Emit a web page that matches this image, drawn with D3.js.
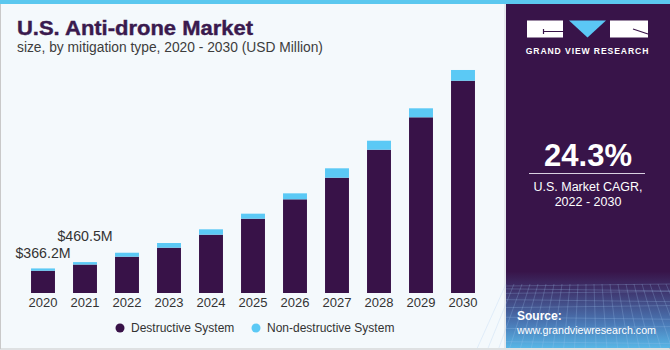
<!DOCTYPE html>
<html>
<head>
<meta charset="utf-8">
<script src="https://cdn.jsdelivr.net/npm/d3@7"></script>
<style>
  body { margin: 0; background: #fff; }
  text { font-family: "Liberation Sans", Arial, sans-serif; }
</style>
</head>
<body>
<script>
var width = 670;
var height = 350;

// data (USD Million)
var years = ["2020", "2021", "2022", "2023", "2024", "2025", "2026", "2027", "2028", "2029", "2030"];
var destructive = [332, 424, 541, 675, 869, 1107, 1396, 1718, 2135, 2618, 3163];
var nonDestructive = [34.2, 36.5, 59, 70, 80, 75, 89, 140, 134, 134, 160];
var labelYears = ["2020", "2021"];
var labelTexts = ["$366.2M", "$460.5M"];
var seriesNames = ["Destructive System", "Non-destructive System"];
var seriesColors = ["#381248", "#5bc9f5"];

// how far each value label sits above its bar
var labelDy = [10, 21];

var svg = d3.select("body")
    .append("svg")
    .attr("width", width)
    .attr("height", height);

var defs = svg.append("defs");
var grad = defs.append("linearGradient")
    .attr("id", "panelGrad")
    .attr("x1", 0).attr("y1", 0).attr("x2", 0).attr("y2", 1);
grad.append("stop").attr("offset", "0").attr("stop-color", "#381449");
grad.append("stop").attr("offset", "0.78").attr("stop-color", "#381449");
grad.append("stop").attr("offset", "0.84").attr("stop-color", "#3f3770");
grad.append("stop").attr("offset", "0.93").attr("stop-color", "#4a79b6");
grad.append("stop").attr("offset", "1").attr("stop-color", "#58b6e6");

// background + border
svg.append("rect")
    .attr("x", 0).attr("y", 0)
    .attr("width", width).attr("height", height)
    .attr("fill", "#f4f9fc");
svg.append("rect")
    .attr("x", 0.5).attr("y", 0.5)
    .attr("width", width - 1).attr("height", height - 1.5)
    .attr("fill", "none")
    .attr("stroke", "#c9c9c9");

// right side panel
var panel = svg.append("g");
panel.append("rect")
    .attr("x", 506).attr("y", 0)
    .attr("width", 164).attr("height", 348)
    .attr("fill", "url(#panelGrad)");
panel.append("line")
    .attr("x1", 505).attr("x2", 505)
    .attr("y1", 0).attr("y2", 348)
    .attr("stroke", "#d5d8de");

// faint grid at the bottom of the panel
var gridG = panel.append("g")
    .attr("stroke", "#9fc6ee")
    .attr("stroke-opacity", 0.35)
    .attr("stroke-width", 0.7);
for (var i = 0; i < 9; i++) {
    var gy = 286 + i * i * 0.85 + i * 2;
    gridG.append("line")
        .attr("x1", 506).attr("x2", 670)
        .attr("y1", gy).attr("y2", gy + (i % 2 ? 2 : -2));
}
for (var j = 0; j < 22; j++) {
    var gx = 506 + j * 8;
    gridG.append("line")
        .attr("x1", gx).attr("x2", gx + (gx - 588) * 0.35)
        .attr("y1", 284).attr("y2", 348);
}

// top strip
svg.append("rect")
    .attr("x", 0).attr("y", 0)
    .attr("width", width).attr("height", 4)
    .attr("fill", "#5bc8ef");

// logo
var logo = panel.append("g");
logo.append("rect").attr("x", 527).attr("y", 20.5).attr("width", 36).attr("height", 17).attr("fill", "#fff");
logo.append("path").attr("d", "M569,20.5 L606,20.5 L587.5,37.5 Z").attr("fill", "#5bc8f5");
logo.append("rect").attr("x", 610).attr("y", 20.5).attr("width", 38).attr("height", 17).attr("fill", "#fff");
logo.append("path").attr("d", "M543,31.5 L563,31.5 M543.5,29 L543.5,34")
    .attr("stroke", "#381449").attr("stroke-width", 1.2).attr("fill", "none");
logo.append("path").attr("d", "M633,29 L648,34")
    .attr("stroke", "#381449").attr("stroke-width", 1.2).attr("fill", "none");
panel.append("text")
    .attr("x", 587.5).attr("y", 54)
    .attr("text-anchor", "middle")
    .attr("fill", "#fff")
    .attr("font-size", 8.6)
    .attr("font-weight", "bold")
    .attr("letter-spacing", 0.9)
    .text("GRAND VIEW RESEARCH");

panel.append("text")
    .attr("x", 588).attr("y", 166)
    .attr("text-anchor", "middle")
    .attr("fill", "#fff")
    .attr("font-size", 31)
    .attr("font-weight", "bold")
    .text("24.3%");
panel.append("line")
    .attr("x1", 529).attr("x2", 645)
    .attr("y1", 173.5).attr("y2", 173.5)
    .attr("stroke", "#d8d0e0")
    .attr("stroke-width", 1);
panel.append("text")
    .attr("x", 588).attr("y", 191)
    .attr("text-anchor", "middle")
    .attr("fill", "#fff")
    .attr("font-size", 12.5)
    .text("U.S. Market CAGR,");
panel.append("text")
    .attr("x", 588).attr("y", 206)
    .attr("text-anchor", "middle")
    .attr("fill", "#fff")
    .attr("font-size", 12.5)
    .text("2022 - 2030");
panel.append("text")
    .attr("x", 517).attr("y", 320)
    .attr("fill", "#fff")
    .attr("font-size", 12)
    .attr("font-weight", "bold")
    .text("Source:");
panel.append("text")
    .attr("x", 517).attr("y", 334)
    .attr("fill", "#fff")
    .attr("font-size", 11.5)
    .attr("textLength", 139)
    .attr("lengthAdjust", "spacingAndGlyphs")
    .text("www.grandviewresearch.com");

// titles
svg.append("text")
    .attr("x", 17).attr("y", 35)
    .attr("fill", "#3a1a4e")
    .attr("font-size", 20)
    .attr("font-weight", "bold")
    .attr("textLength", 236)
    .attr("lengthAdjust", "spacingAndGlyphs")
    .attr("stroke", "#3a1a4e")
    .attr("stroke-width", 0.4)
    .text("U.S. Anti-drone Market");
svg.append("text")
    .attr("x", 17).attr("y", 52)
    .attr("fill", "#3d3d3d")
    .attr("font-size", 13.8)
    .text("size, by mitigation type, 2020 - 2030 (USD Million)");

// scales
var x = d3.scaleBand()
    .domain(years)
    .range([22, 484])
    .paddingInner(0.43)
    .paddingOuter(0.215);

var y = d3.scaleLinear()
    .domain([0, 3500])
    .range([293, 293 - 3500 / 14.9]);

var rows = years.map(function(yr, i) {
    return {year: yr, destructive: destructive[i], nonDestructive: nonDestructive[i]};
});
var stack = d3.stack().keys(["destructive", "nonDestructive"]);
var layers = stack(rows);

var chart = svg.append("g");
chart.selectAll("g.layer")
    .data(layers)
    .enter()
    .append("g")
    .attr("class", "layer")
    .attr("fill", function(d, i) { return seriesColors[i]; })
    .selectAll("rect")
    .data(function(d) { return d; })
    .enter()
    .append("rect")
    .attr("x", function(d) { return x(d.data.year); })
    .attr("width", x.bandwidth())
    .attr("y", function(d) { return y(d[1]); })
    .attr("height", function(d) { return y(d[0]) - y(d[1]); });

// x axis
var xAxis = d3.axisBottom(x).tickSize(0).tickPadding(5);
var axisG = chart.append("g")
    .attr("transform", "translate(0,293)")
    .call(xAxis);
axisG.select(".domain").remove();
axisG.selectAll("text")
    .attr("font-family", "Liberation Sans, Arial, sans-serif")
    .attr("font-size", 13)
    .attr("fill", "#333");

// value labels for first two bars
labelYears.forEach(function(yr, i) {
    var k = years.indexOf(yr);
    var total = destructive[k] + nonDestructive[k];
    chart.append("text")
        .attr("x", x(yr) + x.bandwidth() / 2)
        .attr("y", y(total) - labelDy[i])
        .attr("text-anchor", "middle")
        .attr("fill", "#333")
        .attr("font-size", 14.2)
        .text(labelTexts[i]);
});

// legend
var legendX = [120, 256];
var legend = svg.append("g");
seriesNames.forEach(function(name, i) {
    legend.append("circle")
        .attr("cx", legendX[i]).attr("cy", 328)
        .attr("r", 4.5)
        .attr("fill", seriesColors[i]);
    legend.append("text")
        .attr("x", legendX[i] + 11).attr("y", 332)
        .attr("fill", "#333")
        .attr("font-size", 12)
        .text(name);
});
</script>
</body>
</html>
